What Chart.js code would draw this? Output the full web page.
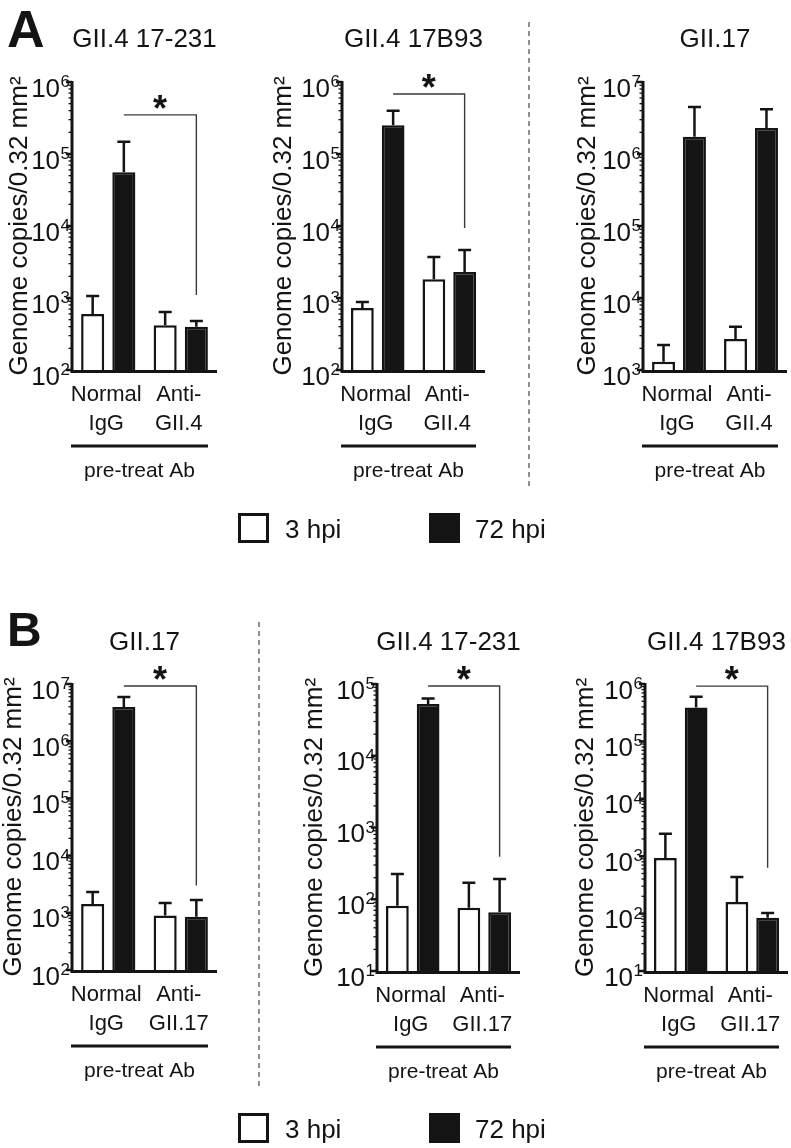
<!DOCTYPE html>
<html>
<head>
<meta charset="utf-8">
<script src="https://cdn.jsdelivr.net/npm/chart.js@4.4.1/dist/chart.umd.min.js"></script>
<style>
html, body { margin: 0; padding: 0; background: #fff; }
#fig { position: relative; width: 791px; height: 1148px; overflow: hidden; }
#fig canvas { position: absolute; left: 0; top: 0; }
</style>
</head>
<body>
<div id="fig"></div>
<script>
// Norovirus neutralisation figure - two rows of log-scale bar panels

// categories
var groupsA = [['Normal', 'IgG'], ['Anti-', 'GII.4']];
var groupsB = [['Normal', 'IgG'], ['Anti-', 'GII.17']];
var seriesNames = ['3 hpi', '72 hpi'];
var groupAxisTitle = 'pre-treat Ab';
var yAxisTitle = 'Genome copies/0.32 mm\u00B2';

// tick values (log axes)
var ticksA1 = [1e2, 1e3, 1e4, 1e5, 1e6];
var ticksA2 = [1e2, 1e3, 1e4, 1e5, 1e6];
var ticksA3 = [1e3, 1e4, 1e5, 1e6, 1e7];
var ticksB1 = [1e2, 1e3, 1e4, 1e5, 1e6, 1e7];
var ticksB2 = [1e1, 1e2, 1e3, 1e4, 1e5];
var ticksB3 = [1e1, 1e2, 1e3, 1e4, 1e5, 1e6];

// series values: mean and upper error-bar end
var a1Hpi3 = [600, 420],        a1Hpi3Err = [1070, 640];
var a1Hpi72 = [56000, 400],     a1Hpi72Err = [148000, 480];
var a2Hpi3 = [725, 1820],       a2Hpi3Err = [880, 3700];
var a2Hpi72 = [251000, 2300],   a2Hpi72Err = [398000, 4650];
var a3Hpi3 = [1300, 2700],      a3Hpi3Err = [2230, 4000];
var a3Hpi72 = [1740000, 2300000], a3Hpi72Err = [4500000, 4200000];
var b1Hpi3 = [1420, 900],       b1Hpi3Err = [2300, 1480];
var b1Hpi72 = [3980000, 850],   b1Hpi72Err = [5900000, 1680];
var b2Hpi3 = [81, 76],          b2Hpi3Err = [225, 170];
var b2Hpi72 = [52500, 66],      b2Hpi72Err = [63000, 191];
var b3Hpi3 = [930, 160],        b3Hpi3Err = [2450, 436];
var b3Hpi72 = [389000, 85],     b3Hpi72Err = [600000, 102];

// significance brackets: [bracket level, end of drop]
var a1Sig = [350000, 1100];
var a2Sig = [680000, 9400];
var b1Sig = [9200000, 3000];
var b2Sig = [94000, 390];
var b3Sig = [920000, 630];

var W = 791, H = 1148;
var FONT = "'Liberation Sans', Arial, Helvetica, sans-serif";
var INK = '#141414';

var panels = [
    { title: 'GII.4 17-231', groups: groupsA, open: a1Hpi3, openErr: a1Hpi3Err, full: a1Hpi72, fullErr: a1Hpi72Err,
      ticks: ticksA1, sig: a1Sig, area: { l: 72, t: 82, r: 217, b: 370 }, titleBase: 47, yTitleX: 20 },
    { title: 'GII.4 17B93', groups: groupsA, open: a2Hpi3, openErr: a2Hpi3Err, full: a2Hpi72, fullErr: a2Hpi72Err,
      ticks: ticksA2, sig: a2Sig, area: { l: 342, t: 82, r: 485, b: 370 }, titleBase: 47, yTitleX: 284 },
    { title: 'GII.17', groups: groupsA, open: a3Hpi3, openErr: a3Hpi3Err, full: a3Hpi72, fullErr: a3Hpi72Err,
      ticks: ticksA3, sig: null, area: { l: 643, t: 82, r: 787, b: 370 }, titleBase: 47, yTitleX: 588 },
    { title: 'GII.17', groups: groupsB, open: b1Hpi3, openErr: b1Hpi3Err, full: b1Hpi72, fullErr: b1Hpi72Err,
      ticks: ticksB1, sig: b1Sig, area: { l: 72, t: 684, r: 217, b: 970 }, titleBase: 650, yTitleX: 14 },
    { title: 'GII.4 17-231', groups: groupsB, open: b2Hpi3, openErr: b2Hpi3Err, full: b2Hpi72, fullErr: b2Hpi72Err,
      ticks: ticksB2, sig: b2Sig, area: { l: 377, t: 684, r: 520, b: 971 }, titleBase: 650, yTitleX: 315 },
    { title: 'GII.4 17B93', groups: groupsB, open: b3Hpi3, openErr: b3Hpi3Err, full: b3Hpi72, fullErr: b3Hpi72Err,
      ticks: ticksB3, sig: b3Sig, area: { l: 645, t: 684, r: 788, b: 971 }, titleBase: 650, yTitleX: 586 }
];

// Draw error bars, axes, labels and brackets for one panel
function panelDecor(p) {
    return {
        id: 'panelDecor',
        afterDatasetsDraw: function (chart) {
            var ctx = chart.ctx, ys = chart.scales.y;
            var errs = [p.openErr, p.fullErr];
            ctx.save();
            ctx.strokeStyle = INK;
            ctx.lineWidth = 2.5;
            for (var d = 0; d < 2; d++) {
                var meta = chart.getDatasetMeta(d);
                meta.data.forEach(function (bar, i) {
                    var ye = ys.getPixelForValue(errs[d][i]);
                    ctx.beginPath();
                    ctx.moveTo(bar.x, bar.y);
                    ctx.lineTo(bar.x, ye);
                    ctx.moveTo(bar.x - 6.5, ye);
                    ctx.lineTo(bar.x + 6.5, ye);
                    ctx.stroke();
                });
            }
            ctx.restore();
        },
        afterDraw: function (chart) {
            var ctx = chart.ctx, a = chart.chartArea, ys = chart.scales.y, xs = chart.scales.x;
            ctx.save();
            ctx.strokeStyle = INK;
            ctx.fillStyle = INK;

            // axis lines
            ctx.lineWidth = 3;
            ctx.beginPath();
            ctx.moveTo(a.left, a.top - 1);
            ctx.lineTo(a.left, a.bottom + 1.5);
            ctx.lineTo(a.right, a.bottom + 1.5);
            ctx.stroke();

            // ticks and labels
            var lo = Math.round(Math.log10(p.ticks[0]));
            var hi = Math.round(Math.log10(p.ticks[p.ticks.length - 1]));
            for (var k = lo; k <= hi; k++) {
                var py = ys.getPixelForValue(Math.pow(10, k));
                ctx.lineWidth = 2.5;
                ctx.beginPath();
                ctx.moveTo(a.left - 6, py);
                ctx.lineTo(a.left, py);
                ctx.stroke();
                if (k < hi) {
                    ctx.lineWidth = 1.3;
                    for (var j = 2; j <= 9; j++) {
                        var my = ys.getPixelForValue(j * Math.pow(10, k));
                        ctx.beginPath();
                        ctx.moveTo(a.left - 3.5, my);
                        ctx.lineTo(a.left, my);
                        ctx.stroke();
                    }
                }
                ctx.textAlign = 'right';
                ctx.textBaseline = 'alphabetic';
                ctx.font = '17px ' + FONT;
                var sup = String(k);
                var sw = ctx.measureText(sup).width;
                ctx.fillText(sup, a.left - 2, py + 5);
                ctx.font = '26px ' + FONT;
                ctx.fillText('10', a.left - 2.5 - sw, py + 14.5);
            }

            // y axis title
            ctx.save();
            ctx.translate(p.yTitleX, (a.top + a.bottom) / 2);
            ctx.rotate(-Math.PI / 2);
            ctx.textAlign = 'center';
            ctx.textBaseline = 'middle';
            ctx.font = '26px ' + FONT;
            ctx.fillText(yAxisTitle, 0, 0);
            ctx.restore();

            // panel title
            ctx.textAlign = 'center';
            ctx.textBaseline = 'alphabetic';
            ctx.font = '26px ' + FONT;
            ctx.fillText(p.title, (a.left + a.right) / 2, p.titleBase);

            // category labels
            ctx.font = '22px ' + FONT;
            p.groups.forEach(function (lines, i) {
                var cx = xs.getPixelForValue(i) - 2;
                ctx.fillText(lines[0], cx, a.bottom + 31);
                ctx.fillText(lines[1], cx, a.bottom + 60);
            });

            // group line and title
            var gx1 = a.left - 1, gx2 = a.right - 9;
            ctx.lineWidth = 3;
            ctx.beginPath();
            ctx.moveTo(gx1, a.bottom + 76);
            ctx.lineTo(gx2, a.bottom + 76);
            ctx.stroke();
            ctx.font = '21px ' + FONT;
            ctx.fillText(groupAxisTitle, (gx1 + gx2) / 2, a.bottom + 107);

            // significance bracket
            if (p.sig) {
                var m1 = chart.getDatasetMeta(1);
                var x1 = m1.data[0].x, x2 = m1.data[1].x;
                var yb = ys.getPixelForValue(p.sig[0]), ye = ys.getPixelForValue(p.sig[1]);
                ctx.strokeStyle = '#3a3a3a';
                ctx.lineWidth = 1.4;
                ctx.beginPath();
                ctx.moveTo(x1, yb);
                ctx.lineTo(x2, yb);
                ctx.lineTo(x2, ye);
                ctx.stroke();
                ctx.font = 'bold 36px ' + FONT;
                var sm = ctx.measureText('*');
                var base = yb - 13 + (sm.actualBoundingBoxAscent - sm.actualBoundingBoxDescent) / 2;
                ctx.fillText('*', (x1 + x2) / 2, base);
            }
            ctx.restore();
        }
    };
}

// Figure-level marks: row letters, separators, legends
var figureDecor = {
    id: 'figureDecor',
    afterDraw: function (chart) {
        var ctx = chart.ctx;
        ctx.save();
        ctx.fillStyle = INK;
        ctx.strokeStyle = INK;
        ctx.textAlign = 'left';
        ctx.textBaseline = 'alphabetic';
        ctx.font = 'bold 52px ' + FONT;
        ctx.fillText('A', 7, 47);
        ctx.font = 'bold 48px ' + FONT;
        ctx.fillText('B', 7, 646);

        ctx.strokeStyle = '#555';
        ctx.lineWidth = 1.3;
        ctx.setLineDash([5, 4]);
        [[529, 22, 490], [259, 622, 1090]].forEach(function (s) {
            ctx.beginPath();
            ctx.moveTo(s[0], s[1]);
            ctx.lineTo(s[0], s[2]);
            ctx.stroke();
        });
        ctx.setLineDash([]);

        [513, 1113].forEach(function (top) {
            ctx.lineWidth = 3;
            ctx.strokeStyle = INK;
            ctx.fillStyle = '#fff';
            ctx.fillRect(239.5, top + 1.5, 28, 27);
            ctx.strokeRect(239.5, top + 1.5, 28, 27);
            ctx.fillStyle = INK;
            ctx.fillRect(429, top, 31, 30);
            ctx.font = '26px ' + FONT;
            ctx.fillText(seriesNames[0], 285, top + 24.5);
            ctx.fillText(seriesNames[1], 475, top + 24.5);
        });
        ctx.restore();
    }
};

var fig = document.getElementById('fig');
panels.forEach(function (p, n) {
    var canvas = document.createElement('canvas');
    canvas.width = W;
    canvas.height = H;
    fig.appendChild(canvas);
    var plugins = [panelDecor(p)];
    if (n === 0) plugins.push(figureDecor);
    new Chart(canvas.getContext('2d'), {
        type: 'bar',
        data: {
            labels: p.groups,
            datasets: [
                { label: seriesNames[0], data: p.open, backgroundColor: '#fff', borderColor: INK, borderWidth: 2.5,
                  categoryPercentage: 0.86, barPercentage: 0.74 },
                { label: seriesNames[1], data: p.full, backgroundColor: INK, borderColor: INK, borderWidth: 2.5,
                  categoryPercentage: 0.86, barPercentage: 0.74 }
            ]
        },
        options: {
            responsive: false,
            animation: false,
            devicePixelRatio: 1,
            layout: { padding: { left: p.area.l, top: p.area.t, right: W - p.area.r, bottom: H - p.area.b } },
            plugins: { legend: { display: false }, tooltip: { enabled: false } },
            scales: {
                x: { display: false, offset: true },
                y: { type: 'logarithmic', display: false, min: p.ticks[0], max: p.ticks[p.ticks.length - 1] }
            }
        },
        plugins: plugins
    });
});
</script>
</body>
</html>
